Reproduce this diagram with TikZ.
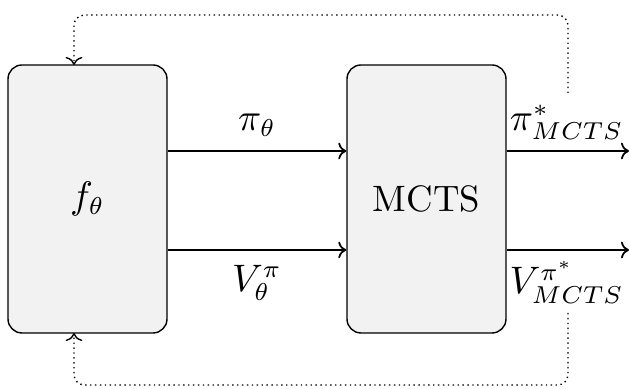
\documentclass[tikz,border=0pt]{standalone}
\usetikzlibrary{arrows.meta}
\begin{document}
\begin{tikzpicture}[x=0.2857pt,y=-0.2857pt,
  blk/.style={draw,fill=black!5,rounded corners=4pt,line width=0.4pt,minimum width=159*0.2857pt,minimum height=268*0.2857pt,inner sep=0pt},
  flow/.style={-{To[length=2.3pt,width=4.8pt]},line width=0.5pt},
  fb/.style={-{To[length=2.3pt,width=4.8pt]},densely dotted,line width=0.4pt,rounded corners=3pt},
  lbl/.style={inner sep=1pt,font=\fontsize{10.5}{12}\selectfont}]
\useasboundingbox (0,0) rectangle (629,389);
\node[blk,font=\fontsize{10.5}{12}\selectfont] (f) at (87.5,199) {$f_\theta$};
\node[blk,font=\fontsize{10.5}{12}\selectfont] (m) at (426.5,199) {MCTS};
\coordinate (o1) at (629,151);
\coordinate (o2) at (629,250);
\draw[flow] (f.east |- 0,151) -- (m.west |- 0,151) node[midway,above=3pt,lbl] (pl) {$\pi_\theta$};
\draw[flow] (f.east |- 0,250) -- (m.west |- 0,250) node[midway,below=3pt,lbl] (vl) {$V^\pi_\theta$};
\draw[flow] (m.east |- 0,151) -- (o1) node[pos=0.49,above=2pt,lbl] (po) {$\pi^*_{MCTS}$};
\draw[flow] (m.east |- 0,250) -- (o2) node[pos=0.49,below=2pt,lbl] (vo) {$V^{\pi^*}_{MCTS}$};
\coordinate (t1) at (568,93);
\coordinate (b1) at (568,313);
\draw[fb] (t1) -- (568,15) -- (74,15) -- (74,65);
\draw[fb] (b1) -- (568,385) -- (74,385) -- (74,333);
\end{tikzpicture}
\end{document}
